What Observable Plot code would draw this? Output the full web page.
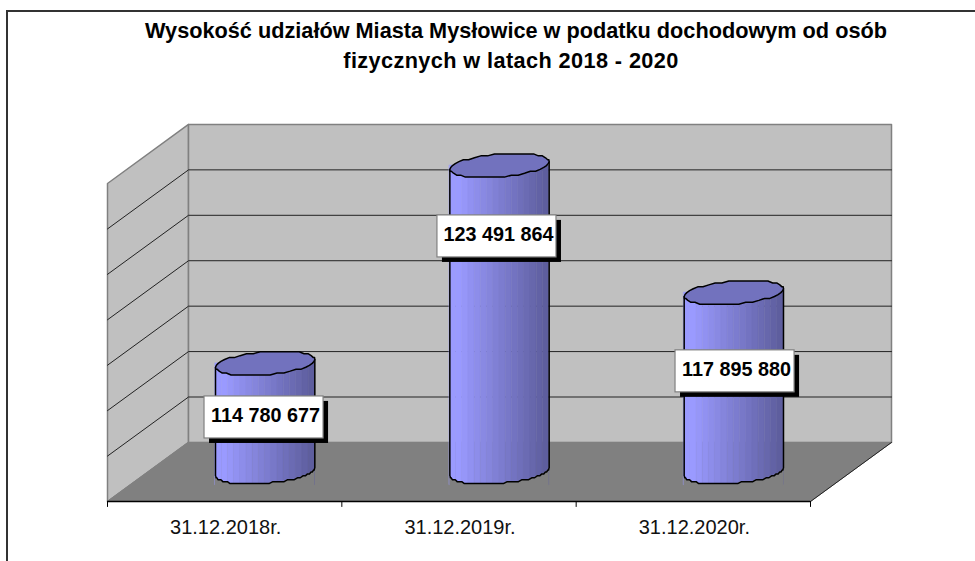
<!DOCTYPE html>
<html lang="pl">
<head>
<meta charset="utf-8">
<script src="https://cdn.jsdelivr.net/npm/d3@7"></script>
<script src="https://cdn.jsdelivr.net/npm/@observablehq/plot@0.6"></script>
<style>
html,body{margin:0;padding:0;background:#fff;}
#frame{position:absolute;left:6px;top:10px;width:969px;height:551px;border-left:2px solid #333;border-top:2px solid #333;box-sizing:border-box;overflow:hidden;}
#title{position:absolute;left:-2px;top:4px;width:1020px;text-align:center;font:bold 21.7px "Liberation Sans",Arial,sans-serif;line-height:30px;color:#000;}
#title span{position:relative;left:-5px;letter-spacing:0.4px;}
#chart{position:absolute;left:-2px;top:-2px;}
svg{display:block;}
</style>
</head>
<body>
<div id="frame"><div id="chart"></div><div id="title">Wysokość udziałów Miasta Mysłowice w podatku dochodowym od osób<br><span>fizycznych w latach 2018 - 2020</span></div></div>
<script>
const categories = ["31.12.2018r.", "31.12.2019r.", "31.12.2020r."];
const values = [114780677, 123491864, 117895880];
const labels = ["114 780 677", "123 491 864", "117 895 880"];
const gridValues = [110e6, 112e6, 114e6, 116e6, 118e6, 120e6, 122e6, 124e6];
const tickPositions = [0, 1, 2, 3];
// where the data-label boxes sit (category units / value units)
const labelX = [0.668, 1.662, 2.678];
const labelY = [113.70e6, 121.67e6, 115.73e6];

// 3D projection in data units
const DX = 0.3457, DY = 2.6e6;
const Ax = 0.2006, Bx = 0.0683, By = 0.528e6, STEP = 0.085e6;
const HW = 0.254, HH = 0.925e6;
const phi = Math.atan2(Bx, Ax);
const R = Math.hypot(Ax, Bx);
const quant = v => Math.round(v / STEP) * STEP;

const poly = (pts) => pts.map(([x, y]) => ({x, y}));
const leftWall = poly([[0,110e6],[0,124e6],[DX,124e6+DY],[DX,110e6+DY]]);
const backWall = poly([[DX,110e6+DY],[DX,124e6+DY],[3+DX,124e6+DY],[3+DX,110e6+DY]]);
const floor = poly([[0,110e6],[3,110e6],[3+DX,110e6+DY],[DX,110e6+DY]]);

const gridLines = [];
for (const v of gridValues.slice(1, -1)) {
  gridLines.push({g:v, x:0, y:v}, {g:v, x:DX, y:v+DY}, {g:v, x:3+DX, y:v+DY});
}

const N = 16;
const bright = "#9A9AFF", dark = "#5E5E9E", cap = "#7272BE";
const strips = [], outlines = [], caps = [], belowArc = [];
values.forEach((v, c) => {
  const cx = c + 0.5 + DX / 2;
  const ptOn = t => ({
    x: cx + Ax * Math.cos(t) + Bx * Math.sin(t),
    off: quant(By * Math.sin(t))
  });
  const base = 110e6 + DY / 2, top = v + DY / 2;
  const pts = d3.range(0, 41).map(i => ptOn(phi + Math.PI + i * Math.PI / 40));
  for (let s = 0; s < N; s++) {
    const xa = cx - R + (s / N) * 2 * R;
    const xb = cx - R + ((s + 1) / N) * 2 * R;
    const col = d3.interpolateRgb(bright, dark)(Math.max(0, (s - 1) / (N - 2)));
    strips.push({z: c + "-" + s, x: xa, y1: base - 1.1 * By, y2: top, fill: col},
                {z: c + "-" + s, x: xb, y1: base - 1.1 * By, y2: top, fill: col});
  }
  outlines.push({c, x: pts[0].x, y: top + pts[0].off});
  pts.forEach(p => {
    outlines.push({c, x: p.x, y: base + p.off});
    belowArc.push({c, x: p.x, y1: base + p.off, y2: base - 1.3 * By});
  });
  outlines.push({c, x: pts[40].x, y: top + pts[40].off});
  d3.range(0, 44).forEach(i => {
    const p = ptOn(i * 2 * Math.PI / 44);
    caps.push({c, x: p.x, y: top + p.off});
  });
});

const labelRows = labels.map((t, i) => ({t, x: labelX[i], y: labelY[i]}));
const font = "Liberation Sans, Arial, sans-serif";

const plot = Plot.plot({
  width: 969,
  height: 551,
  marginLeft: 0, marginRight: 0, marginTop: 0, marginBottom: 0,
  x: {type: "linear", domain: [0, 3], range: [101, 804], axis: null},
  y: {type: "linear", domain: [110e6, 124e6], range: [491, 173], axis: null},
  color: {type: "identity"},
  style: {background: "transparent", overflow: "visible"},
  marks: [
    Plot.line(leftWall, {x: "x", y: "y", curve: "linear-closed", fill: "#C0C0C0", stroke: "#808080", strokeWidth: 1.5}),
    Plot.line(backWall, {x: "x", y: "y", curve: "linear-closed", fill: "#C0C0C0", stroke: "#808080", strokeWidth: 1.5}),
    Plot.line(floor, {x: "x", y: "y", curve: "linear-closed", fill: "#808080", stroke: "#808080", strokeWidth: 1}),
    Plot.line(gridLines, {x: "x", y: "y", z: "g", stroke: "#222", strokeWidth: 1}),
    Plot.line(poly([[3,110e6],[3+DX,110e6+DY]]), {x: "x", y: "y", stroke: "#222", strokeWidth: 1}),
    Plot.area(strips, {x1: "x", y1: "y1", y2: "y2", z: "z", fill: "fill", stroke: "fill", strokeWidth: 0.5}),
    Plot.area(belowArc, {x1: "x", y1: "y1", y2: "y2", z: "c", fill: "#808080"}),
    Plot.line(outlines, {x: "x", y: "y", z: "c", stroke: "#000", strokeWidth: 1.5, strokeLinejoin: "round"}),
    Plot.line(caps, {x: "x", y: "y", z: "c", curve: "linear-closed", fill: cap, stroke: "#000", strokeWidth: 1.5, strokeLinejoin: "round"}),
    Plot.ruleY([110e6], {x1: () => 0, x2: () => 3, stroke: "#000", strokeWidth: 1.5}),
    Plot.ruleX(tickPositions, {y1: 110e6, y2: 109.74e6, stroke: "#000", strokeWidth: 1}),
    Plot.text(categories, {x: (d, i) => i + 0.5, y: () => 110e6, text: d => d, dx: 1, dy: 26, fontSize: 20, fontFamily: font, fill: "#111"}),
    Plot.rect(labelRows, {x1: d => d.x - HW, x2: d => d.x + HW, y1: d => d.y - HH, y2: d => d.y + HH, fill: "#000", dx: 5, dy: 5}),
    Plot.rect(labelRows, {x1: d => d.x - HW, x2: d => d.x + HW, y1: d => d.y - HH, y2: d => d.y + HH, fill: "#fff", stroke: "#808080", strokeWidth: 1.2}),
    Plot.text(labelRows, {x: "x", y: "y", text: "t", dx: 1.5, dy: -1.5, fontSize: 19.8, fontWeight: "bold", fontFamily: font, fill: "#000"})
  ]
});
document.getElementById("chart").appendChild(plot);
</script>
</body>
</html>
